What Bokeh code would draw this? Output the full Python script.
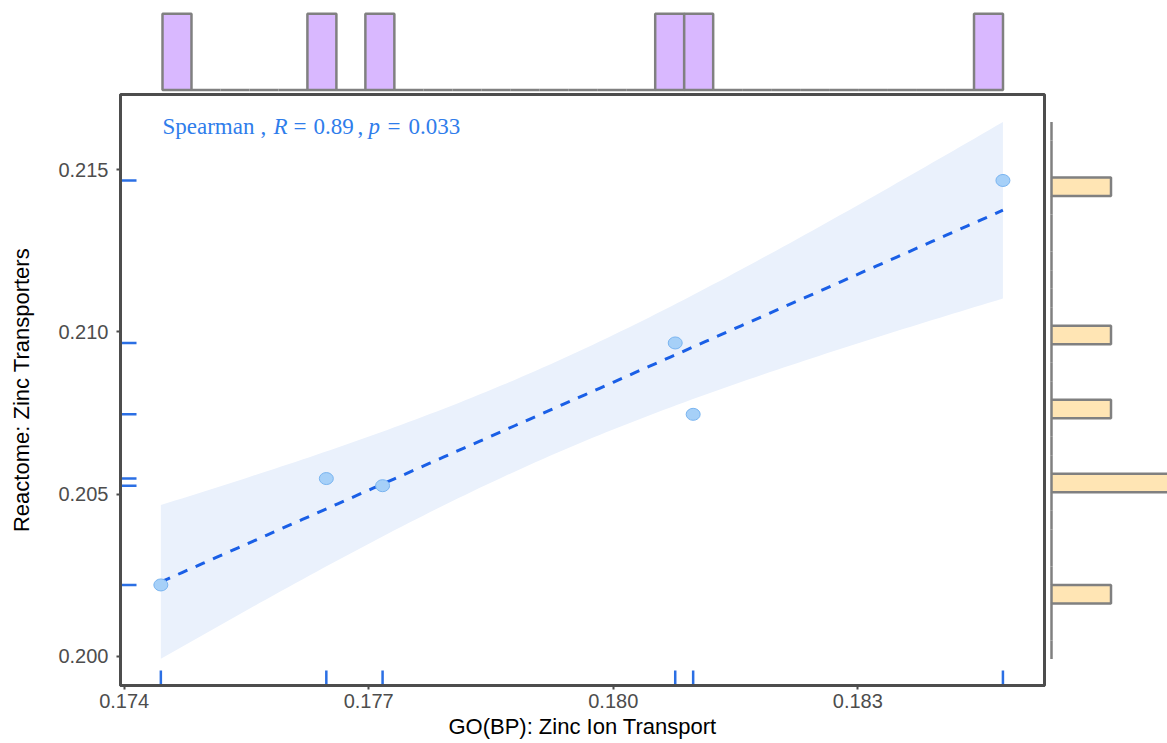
import numpy as np
from bokeh.plotting import figure
from bokeh.layouts import column, row
from bokeh.models import Range1d, FixedTicker, NumeralTickFormatter, Label
from bokeh.embed import file_html
from bokeh.resources import INLINE

# ---- data -------------------------------------------------------------
go_bp_zinc_ion_transport = [0.17445, 0.17648, 0.17717, 0.18076, 0.18098, 0.18478]
reactome_zinc_transporters = [0.20220, 0.20548, 0.20526, 0.20966, 0.20746, 0.21467]

x_ticks = [0.174, 0.177, 0.180, 0.183]
y_ticks = [0.200, 0.205, 0.210, 0.215]

x_title = "GO(BP): Zinc Ion Transport"
y_title = "Reactome: Zinc Transporters"
cor_method = "Spearman"
cor_r = "0.89"
cor_p = "0.033"

# ---- styling / layout constants --------------------------------------
X_LIM = (0.173955, 0.18529)
Y_LIM = (0.19910, 0.21732)
N_BINS_X = 29
Y_BIN_START, Y_BIN_WIDTH, N_BINS_Y = 0.200085, 0.000562, 29
T_975_DF4 = 2.776445  # Student t quantile, 95% CI with n - 2 = 4 dof

AXIS_GREY = "#4d4d4d"
BAR_LINE = "#808080"
TOP_FILL = "#d9b8ff"
RIGHT_FILL = "#ffe5b4"
BAND_FILL = "#eaf1fc"
FIT_COLOR = "#1a5fe6"
RUG_COLOR = "#2b6fe4"
PT_FILL = "#a6d0f8"
PT_LINE = "#79b4f0"
ANN_COLOR = "#2f7deb"
SANS = "Liberation Sans"
SERIF = "Liberation Serif"

x = np.array(go_bp_zinc_ion_transport)
y = np.array(reactome_zinc_transporters)

# frame geometry (pixels)
LEFT_W, FRAME_W, MAIN_R = 120, 924, 2
TOP_H, MAIN_T, FRAME_H, MAIN_B = 92, 2, 591, 58
RIGHT_W = 1167 - (LEFT_W + FRAME_W + MAIN_R)
MAIN_H = MAIN_T + FRAME_H + MAIN_B

# ---- linear fit with 95% confidence band ---------------------------------
n = len(x)
slope, intercept = np.polyfit(x, y, 1)
resid = y - (slope * x + intercept)
s_err = np.sqrt(np.sum(resid ** 2) / (n - 2))
sxx = np.sum((x - x.mean()) ** 2)
xs = np.linspace(x.min(), x.max(), 120)
fit = slope * xs + intercept
half = T_975_DF4 * s_err * np.sqrt(1.0 / n + (xs - x.mean()) ** 2 / sxx)

# ---- main scatter panel ----------------------------------------------------
p = figure(width=LEFT_W + FRAME_W + MAIN_R, height=MAIN_H,
           x_range=Range1d(*X_LIM), y_range=Range1d(*Y_LIM),
           output_backend="svg", toolbar_location=None,
           min_border_left=LEFT_W, min_border_right=MAIN_R,
           min_border_top=MAIN_T, min_border_bottom=MAIN_B)
p.xgrid.visible = False
p.ygrid.visible = False
p.outline_line_color = AXIS_GREY
p.outline_line_width = 3
p.background_fill_color = "white"
p.border_fill_color = "white"

for ax, ticks in ((p.xaxis[0], x_ticks), (p.yaxis[0], y_ticks)):
    ax.ticker = FixedTicker(ticks=ticks)
    ax.formatter = NumeralTickFormatter(format="0.000")
    ax.axis_line_color = AXIS_GREY
    ax.axis_line_width = 3
    ax.major_tick_line_color = AXIS_GREY
    ax.major_tick_line_width = 2
    ax.major_tick_out = 4
    ax.major_tick_in = 0
    ax.minor_tick_line_color = None
    ax.major_label_text_font = SANS
    ax.major_label_text_font_size = "20px"
    ax.major_label_text_color = AXIS_GREY
    ax.axis_label_text_font = SANS
    ax.axis_label_text_font_size = "22px"
    ax.axis_label_text_font_style = "normal"
    ax.axis_label_text_color = "black"

p.xaxis.axis_label = x_title
p.yaxis.axis_label = y_title
p.xaxis.major_label_standoff = 4
p.xaxis.axis_label_standoff = 3
p.yaxis.major_label_standoff = 8
p.yaxis.axis_label_standoff = 21

p.varea(x=xs, y1=fit - half, y2=fit + half, fill_color=BAND_FILL, fill_alpha=1.0)
p.line(x=xs, y=fit, line_color=FIT_COLOR, line_width=3, line_dash="10 9")

# rug marks along the left and bottom edges
p.scatter(x=x, y=[Y_LIM[0]] * n, marker="dash", size=30, angle=np.pi / 2,
          line_color=RUG_COLOR, line_width=2.5)
p.scatter(x=[X_LIM[0]] * n, y=y, marker="dash", size=32,
          line_color=RUG_COLOR, line_width=2.5)

p.ellipse(x=x, y=y, width=14, height=12, width_units="screen", height_units="screen",
          fill_color=PT_FILL, line_color=PT_LINE, line_width=1)

# correlation annotation (R and p in italics)
ann_x, ann_y = 0.17447, 0.21633
pieces = [(cor_method, 0, "normal"), (",", 98, "normal"), ("R", 111, "italic"),
          ("=", 131, "normal"), (cor_r, 151, "normal"), (",", 195, "normal"),
          ("p", 206, "italic"), ("=", 225, "normal"), (cor_p, 246, "normal")]
for txt, dx, style in pieces:
    p.add_layout(Label(x=ann_x, y=ann_y, x_offset=dx, text=txt,
                       text_font=SERIF, text_font_size="23px",
                       text_font_style=style, text_color=ANN_COLOR,
                       text_baseline="alphabetic", text_align="left"))

# ---- top marginal histogram (x) ------------------------------------------
cx, ex = np.histogram(x, bins=N_BINS_X)
kx = (1002.5 - 162.0) / (ex[-1] - ex[0])
top = figure(width=1167, height=TOP_H,
             x_range=Range1d(ex[0] - (162.0 - LEFT_W) / kx,
                             ex[-1] + (LEFT_W + FRAME_W - 1002.5) / kx),
             y_range=Range1d(-(TOP_H - 89.5) / 76.3, 89.5 / 76.3),
             output_backend="svg", toolbar_location=None,
             x_axis_location=None, y_axis_location=None,
             min_border_left=LEFT_W, min_border_right=1167 - LEFT_W - FRAME_W,
             min_border_top=0, min_border_bottom=0)
top.grid.visible = False
top.outline_line_color = None
top.quad(left=ex[:-1], right=ex[1:], bottom=0, top=cx,
         fill_color=TOP_FILL, line_color=BAR_LINE, line_width=2.5)

# ---- right marginal histogram (y) ----------------------------------------
ey = Y_BIN_START + Y_BIN_WIDTH * np.arange(N_BINS_Y + 1)
cy, _ = np.histogram(y, bins=ey)
ky = (658.5 - 121.5) / (ey[-1] - ey[0])
right = figure(width=RIGHT_W, height=MAIN_H,
               x_range=Range1d(-5 / 59.5, (RIGHT_W - 5) / 59.5),
               y_range=Range1d(ey[0] - (685 - 658.5) / ky, ey[-1] + (121.5 - 94) / ky),
               output_backend="svg", toolbar_location=None,
               x_axis_location=None, y_axis_location=None,
               min_border_left=0, min_border_right=0,
               min_border_top=MAIN_T, min_border_bottom=MAIN_B)
right.grid.visible = False
right.outline_line_color = None
right.quad(left=0, right=cy, bottom=ey[:-1], top=ey[1:],
           fill_color=RIGHT_FILL, line_color=BAR_LINE, line_width=2.5)

layout = column(top, row(p, right))
open("out.html", "w").write(file_html(layout, INLINE))
